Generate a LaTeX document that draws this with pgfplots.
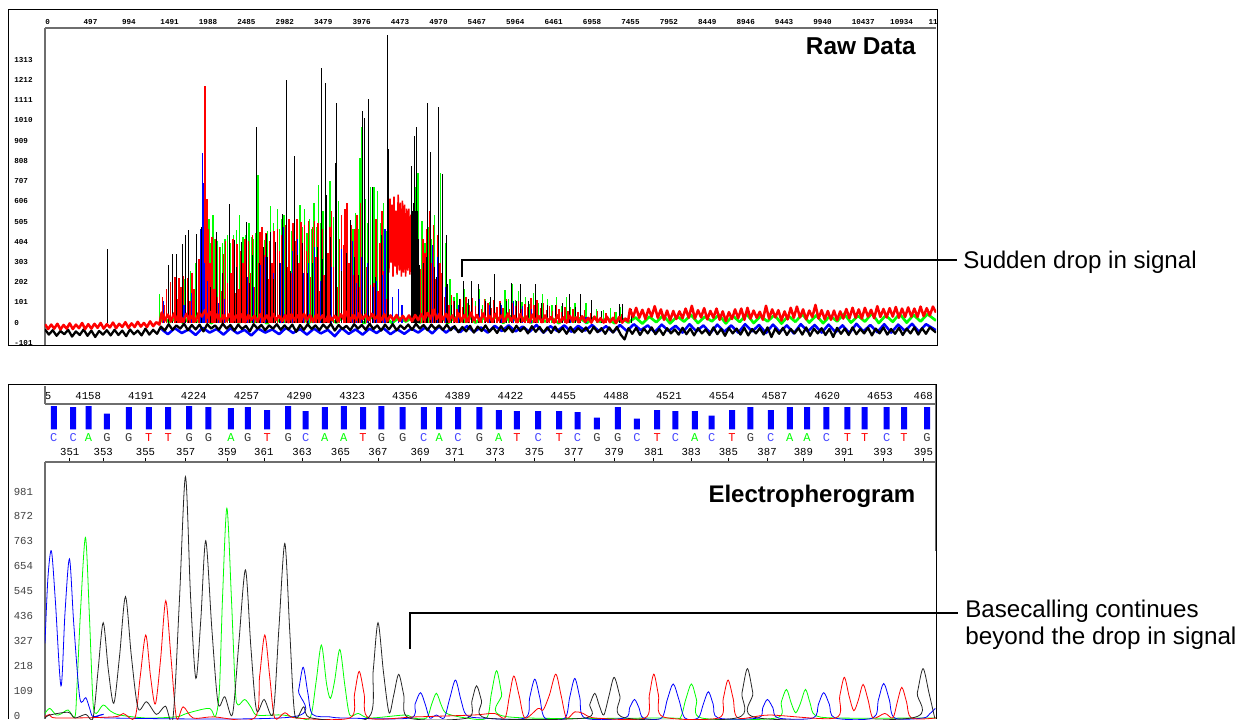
\documentclass[border=0pt]{standalone}
\usepackage{fontspec}
\usepackage{pgfplots}
\pgfplotsset{compat=1.18}
\setmainfont{Liberation Sans}
\setmonofont{Liberation Mono}
\definecolor{axgray}{RGB}{110,110,110}
\definecolor{basec}{RGB}{70,70,255}
\definecolor{baseg}{RGB}{60,60,60}
\newcommand{\rawfont}{\ttfamily\bfseries\fontsize{5.7}{6}\selectfont}
\newcommand{\epgfont}{\ttfamily\fontsize{8}{9}\selectfont}
\begin{document}
\begin{tikzpicture}
\path[use as bounding box] (0pt,0pt) rectangle (932.25pt,-539.25pt);

% ---- raw data panel ----
\begin{axis}[
  at={(33.75pt,-258.75pt)}, anchor=south west, scale only axis,
  width=668.25pt, height=237.75pt,
  xmin=0, xmax=11530, ymin=-112, ymax=1472,
  axis x line*=top, axis y line*=left,
  axis line style={axgray, line width=0.9pt, -},
  scaled x ticks=false, scaled y ticks=false,
  xtick={0,497,994,1491,1988,2485,2982,3479,3976,4473,4970,5467,5964,6461,6958,7455,7952,8449,8946,9443,9940,10437,10934,11431},
  xticklabels={0,497,994,1491,1988,2485,2982,3479,3976,4473,4970,5467,5964,6461,6958,7455,7952,8449,8946,9443,9940,10437,10934,11},
  ytick={-101,0,101,202,303,404,505,606,707,808,909,1010,1111,1212,1313},
  yticklabels={-101,0,101,202,303,404,505,606,707,808,909,1010,1111,1212,1313},
  major tick length=0pt,
  x tick label style={font=\rawfont, anchor=south west, inner sep=0pt, yshift=2.2pt},
  y tick label style={font=\rawfont, anchor=west, inner sep=0pt, xshift=-23.2pt},
]
% green noise band
\addplot[green, line width=2pt, line join=round] coordinates {(1480,-5)(1520,28)(1610,2)(1700,24)(1790,-2)(1880,30)(1970,6)(2060,26)(2150,-3)(2240,22)(2330,4)(2420,31)(2510,0)(2600,24)(2690,7)(2780,28)(2870,-4)(2960,22)(3050,3)(3140,30)(3230,6)(3320,24)(3410,-2)(3500,28)(3590,5)(3680,21)(3770,0)(3860,30)(3950,4)(4040,24)(4130,-3)(4220,26)(4310,6)(4400,30)(4490,-2)(4580,24)(4670,5)(4760,28)(4850,0)(4940,24)(5030,4)(5120,30)(5210,-3)(5300,26)(5390,6)(5480,34)(5570,0)(5660,24)(5750,8)(5840,28)(5930,-2)(6020,32)(6110,5)(6200,24)(6290,0)(6380,28)(6470,6)(6560,22)(6650,-3)(6740,26)(6830,4)(6920,22)(7010,-2)(7100,24)(7190,3)(7280,20)(7370,-3)(7460,22)(7550,0)(7640,26)(7730,-5)(7820,30)(7910,2)(8000,36)(8090,-4)(8180,32)(8270,5)(8360,38)(8450,-2)(8540,30)(8630,6)(8720,40)(8810,-4)(8900,34)(8990,3)(9080,42)(9170,-2)(9260,32)(9350,6)(9440,38)(9530,-5)(9620,34)(9710,4)(9800,42)(9890,0)(9980,36)(10070,-3)(10160,34)(10250,6)(10340,44)(10430,0)(10520,34)(10610,5)(10700,46)(10790,-2)(10880,36)(10970,4)(11060,44)(11150,0)(11240,38)(11330,6)(11420,42)(11530,10)};
% green peaks
\addplot[ycomb, green, line width=1.1pt] coordinates {(1480,145)(1520,120)(1600,100)(1700,170)(1800,220)(1880,260)(1950,300)(2070,600)(2120,520)(2145,400)(2173,537)(2200,420)(2230,410)(2265,380)(2300,400)(2330,420)(2360,440)(2395,400)(2440,440)(2480,465)(2517,537)(2560,430)(2600,440)(2640,500)(2670,430)(2700,420)(2730,450)(2754,740)(2800,470)(2840,415)(2880,460)(2918,585)(2960,500)(3010,570)(3035,470)(3060,520)(3090,540)(3120,470)(3150,430)(3190,460)(3230,510)(3265,480)(3300,590)(3330,480)(3360,570)(3390,450)(3420,520)(3450,470)(3480,600)(3510,480)(3540,690)(3570,500)(3600,560)(3640,480)(3688,710)(3730,530)(3770,480)(3800,610)(3840,520)(3880,570)(3915,480)(3950,500)(3985,470)(4020,550)(4050,470)(4075,820)(4105,978)(4150,620)(4180,500)(4210,680)(4235,520)(4260,680)(4300,660)(4340,500)(4380,600)(4410,460)(4440,520)(4790,680)(4825,748)(4880,510)(4920,400)(4960,480)(5000,420)(5040,540)(5115,748)(5180,400)(5240,220)(5290,130)(5330,150)(5375,110)(5420,170)(5470,100)(5520,150)(5570,110)(5620,170)(5660,90)(5700,120)(5760,105)(5820,170)(5885,110)(5950,165)(6000,120)(6050,195)(6090,115)(6130,160)(6175,105)(6220,130)(6270,95)(6320,150)(6380,100)(6440,145)(6500,120)(6560,90)(6620,130)(6685,85)(6750,130)(6800,80)(6860,100)(6930,75)(7000,100)(7070,70)(7140,70)(7230,65)(7320,75)(7390,55)(7450,80)};
% red peaks
\addplot[ycomb, red, line width=1.15pt] coordinates {(1520,130)(1545,90)(1570,170)(1600,110)(1625,205)(1650,150)(1680,230)(1705,120)(1735,225)(1760,180)(1790,235)(1820,140)(1845,225)(1875,110)(1905,250)(1930,170)(1960,275)(1990,320)(2015,400)(2055,620)(2068,1182)(2078,1090)(2095,620)(2115,470)(2135,300)(2160,430)(2185,170)(2210,420)(2235,130)(2260,380)(2285,160)(2310,345)(2335,410)(2360,200)(2385,360)(2410,250)(2435,420)(2460,150)(2485,395)(2510,170)(2535,360)(2560,300)(2585,420)(2610,130)(2635,410)(2660,250)(2685,440)(2710,180)(2735,500)(2760,300)(2785,455)(2810,480)(2835,340)(2860,450)(2885,220)(2910,410)(2935,300)(2960,460)(2985,200)(3010,470)(3035,360)(3060,440)(3085,140)(3110,490)(3135,280)(3160,520)(3185,250)(3210,500)(3235,410)(3260,520)(3285,300)(3310,505)(3335,160)(3360,490)(3385,360)(3410,510)(3435,230)(3460,480)(3485,510)(3510,330)(3535,500)(3560,160)(3585,470)(3610,240)(3635,500)(3660,350)(3685,480)(3710,560)(3735,280)(3760,490)(3785,180)(3810,420)(3835,540)(3860,390)(3885,570)(3910,600)(3935,300)(3960,490)(3985,240)(4010,470)(4035,540)(4060,180)(4085,600)(4110,420)(4135,590)(4160,280)(4185,540)(4210,190)(4235,420)(4260,200)(4285,520)(4310,160)(4335,400)(4360,560)(4385,260)(4410,120)(4435,520)(4840,100)(4860,270)(4890,420)(4915,350)(4945,470)(4975,560)(5000,300)(5025,490)(5055,220)(5085,440)(5110,300)(5140,250)(5170,130)(5200,170)(5230,90)(5260,140)(5290,110)(5330,70)(5370,120)(5410,80)(5450,130)(5490,90)(5530,125)(5570,85)(5610,140)(5650,70)(5690,120)(5730,100)(5770,75)(5810,115)(5850,80)(5890,110)(5930,75)(5970,120)(6010,70)(6050,100)(6090,85)(6130,110)(6170,70)(6210,95)(6250,80)(6290,125)(6330,90)(6370,115)(6410,75)(6450,100)(6490,65)(6530,85)(6570,60)(6610,90)(6650,70)(6690,55)(6730,80)(6770,60)(6830,70)(6900,55)(6980,65)(7060,50)(7150,60)(7260,50)(7370,55)(7460,45)};
% red block near the drop, floats above the baseline
\addplot[red, line width=1.2pt] coordinates {(4450,250)(4465,620)(4478,300)(4490,590)(4503,230)(4516,630)(4530,280)(4543,560)(4556,240)(4570,640)(4585,260)(4598,600)(4612,230)(4625,610)(4640,250)(4653,590)(4667,230)(4680,570)(4695,260)(4708,570)(4722,240)(4735,540)(4750,280)(4760,530)};
% blue peaks
\addplot[ycomb, blue, line width=0.9pt] coordinates {(1530,110)(1600,140)(1700,120)(1800,90)(1900,150)(1960,220)(2010,470)(2033,845)(2045,700)(2060,300)(2100,210)(2140,170)(2240,100)(2320,120)(2390,150)(2450,300)(2540,140)(2620,230)(2700,180)(2790,290)(2850,330)(2920,350)(2960,250)(3040,300)(3080,480)(3120,230)(3200,360)(3270,420)(3340,250)(3410,300)(3490,380)(3560,210)(3640,320)(3700,280)(3770,200)(3840,370)(3900,290)(3980,410)(4030,200)(4100,330)(4170,300)(4250,180)(4290,210)(4360,240)(4400,470)(4500,130)(4570,170)(4620,90)(5010,390)(5080,330)(5180,180)(5260,80)(5350,90)(5420,110)(5520,100)(5620,120)(5750,90)(5900,90)(6060,110)(6180,85)(6300,70)(6500,55)(6800,40)(7000,30)};
% black peaks
\addplot[ycomb, black, line width=0.7pt] coordinates {(809,370)(1598,287)(1654,345)(1706,345)(1775,395)(1818,437)(1852,465)(1956,445)(2021,478)(2140,180)(2215,453)(2300,250)(2387,595)(2452,412)(2480,280)(2547,403)(2603,503)(2650,200)(2690,340)(2741,975)(2780,300)(2830,380)(2862,445)(2880,330)(2918,453)(2950,220)(2982,403)(3030,300)(3077,545)(3121,1212)(3170,260)(3224,832)(3270,340)(3330,400)(3400,250)(3460,300)(3520,380)(3573,1274)(3581,720)(3590,320)(3633,1195)(3640,637)(3690,430)(3759,795)(3767,1095)(3840,260)(3900,350)(3953,512)(4000,330)(4060,240)(4113,1057)(4130,1020)(4190,1115)(4233,678)(4270,230)(4350,440)(4432,1437)(4441,865)(4742,783)(4750,560)(4765,600)(4781,932)(4790,560)(4803,978)(4815,560)(4830,420)(4850,290)(4900,300)(4930,330)(4954,1095)(4988,850)(5040,280)(5060,230)(5087,1075)(5096,820)(5140,670)(5147,742)(5199,438)(5212,195)(5260,90)(5300,110)(5360,120)(5415,207)(5480,120)(5523,208)(5609,195)(5700,110)(5760,130)(5812,242)(5900,100)(5970,110)(6036,198)(6100,110)(6153,195)(6250,110)(6347,192)(6420,100)(6500,90)(6600,90)(6690,100)(6787,145)(6860,80)(6925,145)(7067,112)(7200,60)(7434,92)(7477,92)(7585,70)};
% blue noise band
\addplot[blue, line width=1.9pt, line join=round] coordinates {(1500,-30)(1590,-58)(1680,-28)(1770,-52)(1860,-34)(1950,-62)(2040,-26)(2130,-50)(2220,-32)(2310,-60)(2400,-28)(2490,-54)(2580,-36)(2670,-64)(2760,-30)(2850,-50)(2940,-34)(3030,-58)(3120,-26)(3210,-52)(3300,-32)(3390,-60)(3480,-30)(3570,-54)(3660,-36)(3750,-68)(3840,-28)(3930,-56)(4020,-34)(4110,-60)(4200,-30)(4290,-52)(4380,-28)(4470,-58)(4560,-34)(4650,-56)(4740,-30)(4830,-50)(4920,-24)(5010,-54)(5100,-20)(5190,-50)(5280,-22)(5370,-48)(5460,-18)(5550,-46)(5640,-24)(5730,-50)(5820,-16)(5910,-42)(6000,-14)(6090,-44)(6180,-20)(6270,-46)(6360,-12)(6450,-50)(6540,-18)(6630,-42)(6720,-14)(6810,-46)(6900,-16)(6990,-40)(7080,-12)(7170,-44)(7260,-18)(7350,-48)(7440,-12)(7530,-42)(7620,-8)(7710,-38)(7800,-14)(7890,-48)(7980,-10)(8070,-42)(8160,-16)(8250,-50)(8340,-8)(8430,-44)(8520,-14)(8610,-52)(8700,-10)(8790,-46)(8880,-14)(8970,-50)(9060,-8)(9150,-44)(9240,-12)(9330,-52)(9420,-10)(9510,-46)(9600,-14)(9690,-54)(9780,-8)(9870,-44)(9960,-12)(10050,-50)(10140,-10)(10230,-48)(10320,-14)(10410,-52)(10500,-6)(10590,-44)(10680,-12)(10770,-48)(10860,-8)(10950,-50)(11040,-10)(11130,-42)(11220,-6)(11310,-46)(11400,-8)(11530,-38)};
% black baseline
\addplot[black, line width=1.7pt, line join=round] coordinates {(0,-34)(50,-60)(100,-38)(150,-66)(200,-42)(250,-58)(300,-36)(350,-70)(400,-44)(450,-62)(500,-34)(550,-66)(600,-40)(650,-72)(700,-42)(750,-60)(800,-38)(850,-64)(900,-36)(950,-62)(1000,-40)(1050,-68)(1100,-34)(1150,-58)(1200,-40)(1250,-64)(1300,-30)(1350,-60)(1400,-36)(1450,-56)(1500,-20)(1550,-40)(1600,-8)(1650,-36)(1700,-14)(1750,-30)(1800,-6)(1850,-38)(1900,-12)(1950,-34)(2000,-10)(2050,-44)(2100,-8)(2150,-30)(2200,-14)(2250,-36)(2300,-6)(2350,-30)(2400,-12)(2450,-40)(2500,-10)(2550,-32)(2600,-16)(2650,-44)(2700,-8)(2750,-30)(2800,-12)(2850,-38)(2900,-14)(2950,-30)(3000,-8)(3050,-36)(3100,-14)(3150,-34)(3200,-10)(3250,-46)(3300,-12)(3350,-36)(3400,-8)(3450,-32)(3500,-14)(3550,-38)(3600,-10)(3650,-30)(3700,-6)(3750,-40)(3800,-12)(3850,-32)(3900,-16)(3950,-38)(4000,-8)(4050,-30)(4100,-12)(4150,-36)(4200,-6)(4250,-32)(4300,-14)(4350,-40)(4400,-10)(4450,-34)(4500,-8)(4550,-38)(4600,-14)(4650,-32)(4700,-10)(4750,-36)(4800,-6)(4850,-30)(4900,-12)(4950,-38)(5000,-10)(5050,-32)(5100,-14)(5150,-36)(5200,-10)(5250,-38)(5300,-18)(5350,-48)(5400,-22)(5450,-44)(5500,-16)(5550,-50)(5600,-20)(5650,-42)(5700,-14)(5750,-46)(5800,-24)(5850,-52)(5900,-18)(5950,-44)(6000,-22)(6050,-48)(6100,-16)(6150,-42)(6200,-24)(6250,-54)(6300,-18)(6350,-46)(6400,-22)(6450,-50)(6500,-24)(6550,-52)(6600,-20)(6650,-48)(6700,-26)(6750,-56)(6800,-22)(6850,-50)(6900,-28)(6950,-46)(7000,-24)(7050,-54)(7100,-22)(7150,-48)(7200,-28)(7250,-56)(7300,-24)(7350,-50)(7400,-22)(7450,-60)(7500,-84)(7550,-28)(7600,-56)(7650,-26)(7700,-62)(7750,-30)(7800,-54)(7850,-24)(7900,-58)(7950,-32)(8000,-62)(8050,-28)(8100,-54)(8150,-34)(8200,-60)(8250,-26)(8300,-58)(8350,-30)(8400,-64)(8450,-28)(8500,-54)(8550,-34)(8600,-62)(8650,-24)(8700,-58)(8750,-32)(8800,-66)(8850,-28)(8900,-54)(8950,-30)(9000,-60)(9050,-26)(9100,-64)(9150,-32)(9200,-54)(9250,-28)(9300,-60)(9350,-24)(9400,-72)(9450,-30)(9500,-56)(9550,-26)(9600,-62)(9650,-32)(9700,-54)(9750,-28)(9800,-60)(9850,-24)(9900,-66)(9950,-30)(10000,-54)(10050,-28)(10100,-62)(10150,-32)(10200,-72)(10250,-26)(10300,-56)(10350,-30)(10400,-62)(10450,-24)(10500,-58)(10550,-32)(10600,-54)(10650,-26)(10700,-64)(10750,-30)(10800,-54)(10850,-24)(10900,-60)(10950,-32)(11000,-56)(11050,-26)(11100,-62)(11150,-30)(11200,-54)(11250,-24)(11300,-60)(11350,-28)(11400,-56)(11450,-24)(11530,-50)};
% red baseline, on top of everything
\addplot[red, line width=1.9pt, line join=round] coordinates {(0,-8)(40,-32)(80,-10)(120,-30)(160,-6)(200,-34)(240,-12)(280,-30)(320,-4)(360,-32)(400,-10)(440,-28)(480,-2)(520,-32)(560,-8)(600,-30)(640,-6)(680,-26)(720,-2)(760,-30)(800,-8)(840,-24)(880,0)(920,-28)(960,-6)(1000,-22)(1040,2)(1080,-26)(1120,-4)(1160,-22)(1200,4)(1240,-20)(1280,-2)(1320,-22)(1360,6)(1400,-18)(1440,2)(1480,-10)(1510,50)(1550,10)(1590,40)(1630,6)(1670,46)(1710,12)(1750,36)(1790,4)(1830,44)(1870,14)(1910,34)(1950,8)(1990,50)(2030,30)(2070,62)(2110,24)(2150,54)(2190,12)(2230,42)(2270,6)(2310,38)(2350,10)(2390,44)(2430,4)(2470,36)(2510,12)(2550,42)(2590,2)(2630,38)(2670,14)(2710,34)(2750,6)(2790,42)(2830,10)(2870,36)(2910,4)(2950,44)(2990,14)(3030,34)(3070,8)(3110,38)(3150,2)(3190,42)(3230,12)(3270,36)(3310,6)(3350,44)(3390,14)(3430,38)(3470,4)(3510,42)(3550,12)(3590,36)(3630,6)(3670,40)(3710,12)(3750,34)(3790,8)(3830,42)(3870,14)(3910,56)(3950,10)(3990,38)(4030,14)(4070,48)(4110,18)(4150,40)(4190,12)(4230,44)(4270,18)(4310,38)(4350,12)(4390,42)(4430,8)(4470,36)(4510,12)(4550,38)(4590,8)(4630,34)(4670,10)(4710,36)(4750,6)(4790,38)(4830,12)(4870,42)(4910,14)(4950,48)(4990,20)(5030,66)(5070,18)(5110,46)(5150,16)(5190,44)(5230,10)(5270,36)(5310,6)(5350,46)(5390,10)(5430,38)(5470,6)(5510,50)(5550,12)(5590,38)(5630,4)(5670,46)(5710,10)(5750,34)(5790,4)(5830,44)(5870,12)(5910,36)(5950,6)(5990,46)(6030,10)(6070,34)(6110,2)(6150,42)(6190,8)(6230,30)(6270,2)(6310,40)(6350,8)(6390,32)(6430,2)(6470,36)(6510,6)(6550,28)(6590,0)(6630,36)(6670,6)(6710,26)(6750,0)(6790,34)(6830,6)(6870,26)(6910,2)(6950,32)(6990,4)(7030,24)(7070,0)(7110,30)(7150,4)(7190,22)(7230,0)(7270,30)(7310,2)(7350,24)(7390,-2)(7430,28)(7470,0)(7510,20)(7545,6)(7570,68)(7610,28)(7650,74)(7690,24)(7730,64)(7770,18)(7810,68)(7850,30)(7890,82)(7930,24)(7970,66)(8010,14)(8050,60)(8090,12)(8130,58)(8170,18)(8210,56)(8250,22)(8290,70)(8330,24)(8370,84)(8410,20)(8450,62)(8490,26)(8530,72)(8570,16)(8610,58)(8650,24)(8690,70)(8730,14)(8770,56)(8810,8)(8850,52)(8890,18)(8930,66)(8970,22)(9010,70)(9050,14)(9090,74)(9130,20)(9170,60)(9210,24)(9250,54)(9290,14)(9330,84)(9370,20)(9410,66)(9450,26)(9490,62)(9530,10)(9570,56)(9610,16)(9650,74)(9690,24)(9730,80)(9770,26)(9810,66)(9850,16)(9890,60)(9930,28)(9970,88)(10010,20)(10050,62)(10090,16)(10130,58)(10170,14)(10210,60)(10250,12)(10290,56)(10330,20)(10370,68)(10410,22)(10450,74)(10490,24)(10530,66)(10570,20)(10610,74)(10650,30)(10690,64)(10730,22)(10770,82)(10810,28)(10850,68)(10890,26)(10930,72)(10970,30)(11010,78)(11050,24)(11090,70)(11130,28)(11170,76)(11210,30)(11250,70)(11290,28)(11330,80)(11370,32)(11410,72)(11450,36)(11490,80)(11530,50)};
\end{axis}

% ---- base call strip ----
\begin{axis}[
  at={(33.75pt,-346.5pt)}, anchor=south west, scale only axis,
  width=668.25pt, height=43.5pt,
  xmin=4131, xmax=4688, ymin=-32.7, ymax=25.3,
  axis x line*=top, axis y line=none,
  axis line style={axgray, line width=0.8pt, -},
  scaled x ticks=false,
  xtick={4133,4158,4191,4224,4257,4290,4323,4356,4389,4422,4455,4488,4521,4554,4587,4620,4653,4680},
  xticklabels={5,4158,4191,4224,4257,4290,4323,4356,4389,4422,4455,4488,4521,4554,4587,4620,4653,468},
  major tick length=0pt,
  x tick label style={font=\epgfont, text=black, inner sep=0pt, yshift=3.2pt},
  every node near coord/.append style={anchor=center, inner sep=0pt, font=\ttfamily\fontsize{9}{10}\selectfont},
]
\addplot[ybar, bar width=4.5pt, draw=none, fill=blue] coordinates {(4136.5,23.3)(4148.6,22.3)(4158.2,23.3)(4169.7,15.7)(4183.4,22.3)(4195.9,22.3)(4208.0,22.3)(4221.1,23.3)(4233.2,22.3)(4247.2,21.3)(4257.8,22.3)(4269.9,19.3)(4283.0,23.3)(4294.0,18.3)(4305.9,22.3)(4317.8,23.3)(4329.8,22.3)(4341.3,23.3)(4354.6,22.3)(4367.8,22.3)(4377.4,22.3)(4389.2,22.3)(4402.6,22.3)(4414.7,19.3)(4426.0,18.3)(4439.3,18.3)(4452.4,18.3)(4463.9,17.3)(4476.0,11.7)(4489.1,22.3)(4501.0,10.7)(4513.7,19.3)(4525.1,18.3)(4537.2,18.3)(4547.8,13.7)(4560.5,19.3)(4572.0,22.3)(4584.7,19.3)(4596.6,22.3)(4607.4,22.3)(4619.5,22.3)(4632.6,22.3)(4643.4,22.3)(4657.2,22.3)(4668.0,22.3)(4682.4,22.3)};
\addplot[draw=none, mark=none, nodes near coords=C, every node near coord/.append style={text=basec}] coordinates {(4136.5,-8)(4148.6,-8)(4294.0,-8)(4367.8,-8)(4389.2,-8)(4439.3,-8)(4463.9,-8)(4501.0,-8)(4525.1,-8)(4547.8,-8)(4584.7,-8)(4619.5,-8)(4657.2,-8)};
\addplot[draw=none, mark=none, nodes near coords=A, every node near coord/.append style={text=green}] coordinates {(4158.2,-8)(4247.2,-8)(4305.9,-8)(4317.8,-8)(4377.4,-8)(4414.7,-8)(4537.2,-8)(4596.6,-8)(4607.4,-8)};
\addplot[draw=none, mark=none, nodes near coords=G, every node near coord/.append style={text=baseg}] coordinates {(4169.7,-8)(4183.4,-8)(4221.1,-8)(4233.2,-8)(4257.8,-8)(4283.0,-8)(4341.3,-8)(4354.6,-8)(4402.6,-8)(4476.0,-8)(4489.1,-8)(4572.0,-8)(4682.4,-8)};
\addplot[draw=none, mark=none, nodes near coords=T, every node near coord/.append style={text=red}] coordinates {(4195.9,-8)(4208.0,-8)(4269.9,-8)(4329.8,-8)(4426.0,-8)(4452.4,-8)(4513.7,-8)(4560.5,-8)(4632.6,-8)(4643.4,-8)(4668.0,-8)};
\end{axis}

% ---- electropherogram ----
\begin{axis}[
  at={(33.75pt,-539.25pt)}, anchor=south west, scale only axis,
  width=668.25pt, height=192.75pt,
  xmin=4131, xmax=4688, ymin=-14.4, ymax=1110,
  axis x line*=top, axis y line*=left,
  axis line style={axgray, line width=0.8pt, -},
  tick align=outside,
  scaled x ticks=false,
  xtick={4146.5,4167.4,4193.8,4219.0,4244.9,4267.8,4291.7,4315.7,4339.2,4365.5,4387.1,4412.4,4437,4461.6,4486.8,4511.6,4534.9,4558.2,4582.4,4605.1,4630.5,4654.9,4680.1},
  xticklabels={351,353,355,357,359,361,363,365,367,369,371,373,375,377,379,381,383,385,387,389,391,393,395},
  xtick style={black, line width=0.5pt},
  x tick label style={font=\epgfont, text=black, inner sep=0pt, yshift=1.4pt},
  major tick length=3pt,
  ytick={0,109,218,327,436,545,654,763,872,981},
  yticklabels={0,109,218,327,436,545,654,763,872,981},
  ytick style={draw=none},
  y tick label style={font=\epgfont, text=black!75, anchor=west, inner sep=0pt, xshift=-20.6pt},
  every axis plot/.append style={smooth, tension=0.5, line width=0.6pt},
]
\addplot[green] coordinates {(4131,10)(4134,32)(4138,3)(4141,8)(4145.5,25)(4149.7,-5)(4151,130)(4153.3,470)(4156.3,780)(4158.8,430)(4161,60)(4163,10)(4167.4,47)(4172,20)(4177.8,3)(4194.5,-10)(4213,-5)(4218,6)(4223.6,18)(4234,32)(4237.5,-4)(4240,110)(4242,520)(4244.7,908)(4247.5,520)(4250,110)(4251.7,47)(4255.9,71)(4260,35)(4263.2,3)(4273.6,3)(4280,3)(4290.3,-10)(4297,-5)(4300.5,150)(4303.8,309)(4307,140)(4309.4,76)(4312,150)(4315.3,290)(4318.5,130)(4321.5,3)(4326.8,10)(4334,-10)(4356,3)(4361,-10)(4369.5,-10)(4372.7,50)(4375.7,98)(4378.8,45)(4382.1,10)(4394.4,-10)(4407,-10)(4410,95)(4413.3,197)(4416.5,95)(4419.5,-4)(4520,-10)(4528,-10)(4531.5,70)(4535.1,139)(4538.3,70)(4541.4,-10)(4588,-10)(4591.3,60)(4594.5,115)(4597.5,55)(4600.3,13)(4603.3,55)(4606.4,115)(4609.3,55)(4612.3,3)(4625.7,-10)(4688,-10)};
\addplot[blue] coordinates {(4131,317)(4132.8,600)(4135,721)(4137.5,500)(4141,130)(4143.5,450)(4146.3,686)(4149,400)(4152.8,76)(4156.5,79)(4159,30)(4161,-4)(4167.4,6)(4171.5,-10)(4286,-5)(4289.5,110)(4292.4,212)(4295.3,100)(4298.2,6)(4309,-5)(4318,-10)(4359,-10)(4362.3,50)(4365.7,101)(4368.7,50)(4371.5,-10)(4375.7,3)(4380.5,-10)(4384,75)(4387.6,156)(4391,70)(4394.4,3)(4404,-10)(4431,-10)(4434,80)(4437.2,160)(4440.3,80)(4443.5,-10)(4456,-10)(4459,80)(4462.2,163)(4465.3,80)(4468.5,-10)(4493.4,-10)(4496.5,35)(4499.5,71)(4502.3,35)(4505,-10)(4516.4,-10)(4520,70)(4523.7,139)(4527.3,70)(4531,-10)(4539.3,-10)(4542.5,50)(4545.7,105)(4548.7,50)(4551.8,-10)(4576.8,-10)(4579.7,35)(4582.6,71)(4586,35)(4589.3,-10)(4611.2,-10)(4614.5,50)(4617.8,101)(4621.3,50)(4624.8,-10)(4648.6,-10)(4652,70)(4655.3,141)(4658.8,70)(4662.2,-10)(4680,-10)(4684,8)(4687.6,32)};
\addplot[red] coordinates {(4131,-5)(4134,6)(4138.2,-10)(4174,-5)(4179.9,10)(4187.2,-10)(4190.5,170)(4194,353)(4197,170)(4200,51)(4203.3,250)(4206.5,503)(4209.8,250)(4213.2,-10)(4217.4,39)(4223.6,-10)(4236,-5)(4262,-10)(4265.2,175)(4268.4,353)(4271.5,170)(4274.6,-10)(4281,13)(4288,-10)(4321.5,-10)(4324.5,95)(4327.4,194)(4330.5,95)(4333.5,-10)(4363,-5)(4398.6,3)(4412,10)(4418.5,-10)(4421.3,85)(4424.1,174)(4427.5,85)(4431,-10)(4439.3,32)(4442.4,25)(4446.3,90)(4450.3,182)(4453.6,90)(4457,-10)(4462.2,17)(4467.4,10)(4475,-10)(4506,-10)(4508.8,90)(4511.6,182)(4514.5,90)(4517.4,-5)(4552,-10)(4555,75)(4558,156)(4561.2,75)(4564.3,-10)(4584,3)(4625,-10)(4627.8,85)(4630.7,168)(4633.7,85)(4636.6,22)(4639.5,70)(4642.4,137)(4645.5,70)(4648.6,-10)(4656,10)(4661,-10)(4663.8,60)(4666.6,124)(4669.6,60)(4672.6,-10)(4688,-10)};
\addplot[black!85] coordinates {(4131,-10)(4134,3)(4145.5,15)(4149.7,-10)(4156.5,6)(4161,-10)(4164.2,200)(4167.4,407)(4170.6,200)(4174,54)(4177.6,260)(4181.3,521)(4185,260)(4189.2,32)(4194.5,61)(4200.7,6)(4206.3,42)(4211,-10)(4215,500)(4218.8,1046)(4222,520)(4225.3,163)(4228.4,420)(4231.5,766)(4235.3,380)(4239.2,54)(4243.4,83)(4248.2,6)(4252.2,320)(4256.3,638)(4259.7,300)(4263.2,25)(4268,71)(4273.6,10)(4277.2,380)(4280.9,754)(4284,370)(4287.2,3)(4292.8,39)(4297.6,-10)(4333,-10)(4336.2,200)(4339.2,407)(4342.6,190)(4346.1,13)(4349,90)(4352.1,181)(4355.3,90)(4358.6,-10)(4395,-10)(4397.9,65)(4400.8,131)(4403.9,65)(4407,-10)(4468.5,-10)(4471.6,50)(4474.7,98)(4477.5,45)(4480.3,3)(4483.5,85)(4486.8,168)(4490.4,85)(4494,-10)(4563.2,-10)(4566.7,100)(4570.1,206)(4573.5,100)(4576.8,-10)(4672.6,-10)(4676.3,100)(4679.9,206)(4683.6,100)(4687.2,-10)};
\end{axis}

% ---- frames, callouts and captions ----
\begin{scope}[x=0.75pt, y=-0.75pt]
\draw[black, line width=0.75pt] (8.5,9.5) rectangle (937,345);
\draw[black, line width=0.75pt] (8.5,719) -- (8.5,384.5) -- (936,384.5) -- (936,719);
\draw[axgray, line width=1.2pt] (935.6,384.5) -- (935.6,551);
\draw[axgray, line width=0.9pt] (45,386) -- (45,404);
\draw[black, line width=1.2pt] (462,277) -- (462,260) -- (957,260);
\draw[black, line width=1.2pt] (410,649) -- (410,613) -- (958,613);
\node[anchor=base east, inner sep=0pt, font=\bfseries\fontsize{18.3}{20}\selectfont] at (916,54) {Raw Data};
\node[anchor=base east, inner sep=0pt, font=\bfseries\fontsize{18}{20}\selectfont] at (915.5,502) {Electropherogram};
\node[anchor=base west, inner sep=0pt, font=\fontsize{18.1}{20}\selectfont] at (963,268) {Sudden drop in signal};
\node[anchor=base west, inner sep=0pt, font=\fontsize{18.1}{20}\selectfont] at (965,617) {Basecalling continues};
\node[anchor=base west, inner sep=0pt, font=\fontsize{18.2}{20}\selectfont] at (965,644) {beyond the drop in signal};
\end{scope}
\end{tikzpicture}
\end{document}
